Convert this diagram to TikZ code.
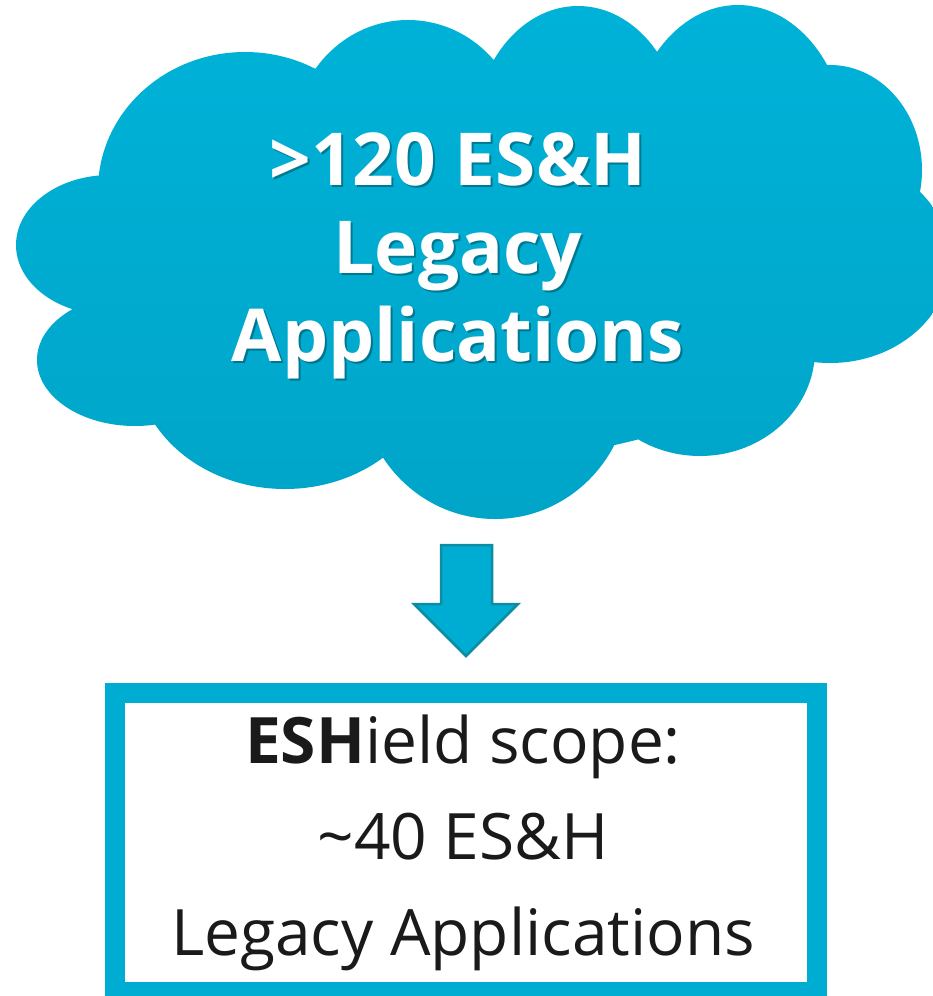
\documentclass[tikz,border=0pt]{standalone}
\usepackage{fontspec}
\setmainfont{Open Sans}
\definecolor{cloudtop}{RGB}{0,178,216}
\definecolor{cloudbot}{RGB}{0,165,200}
\definecolor{eshcyan}{RGB}{0,173,210}
\definecolor{arrowrim}{RGB}{14,140,164}
\definecolor{inktext}{RGB}{26,26,26}
\tikzset{
  cloudtext/.style={align=center, text=white, font=\bfseries\fontsize{73}{88}\selectfont, inner sep=0pt},
  scopetext/.style={align=center, text=inktext, font=\fontsize{64}{96}\selectfont, inner sep=0pt},
}

\begin{document}
\begin{tikzpicture}[x=1pt,y=1pt]
   \useasboundingbox (0,0) rectangle (932,-996);

   % cloud made of overlapping bumps
   \shade[top color=cloudtop, bottom color=cloudbot]
     (470,-260) ellipse [x radius=380, y radius=200]
     (245,-190) ellipse [x radius=147, y radius=138]
     (408,-140) ellipse [x radius=115, y radius=120]
     (578,-140) ellipse [x radius=105, y radius=134]
     (738,-150) ellipse [x radius=110, y radius=145]
     (830,-170) ellipse [x radius=92, y radius=105]
     (830,-260) ellipse [x radius=120, y radius=103]
     (700,-350) ellipse [x radius=115, y radius=106]
     (495,-380) ellipse [x radius=135, y radius=139]
     (285,-360) ellipse [x radius=150, y radius=129]
     (135,-360) ellipse [x radius=98, y radius=66]
     (110,-245) ellipse [x radius=94, y radius=70];

   \node[cloudtext, text=black, opacity=0.3] (legacyshadow) at (460,-258) {>120 ES\&H\\Legacy\\Applications};
   \node[cloudtext] (legacy) at (458,-256) {>120 ES\&H\\Legacy\\Applications};

   % block arrow
   \draw[fill=eshcyan, draw=arrowrim, line width=2.5pt, line join=miter]
     (441,-545) -- (492,-545) -- (492,-604) -- (518,-604) -- (466,-656)
     -- (414,-604) -- (441,-604) -- cycle;

   % scope box
   \draw[eshcyan, line width=20pt, fill=white] (115,-693) rectangle (817,-992);
   \node[scopetext] (scope) at (463,-843) {\textbf{ESH}ield scope:\\\textasciitilde40 ES\&H\\Legacy Applications};
\end{tikzpicture}
\end{document}
